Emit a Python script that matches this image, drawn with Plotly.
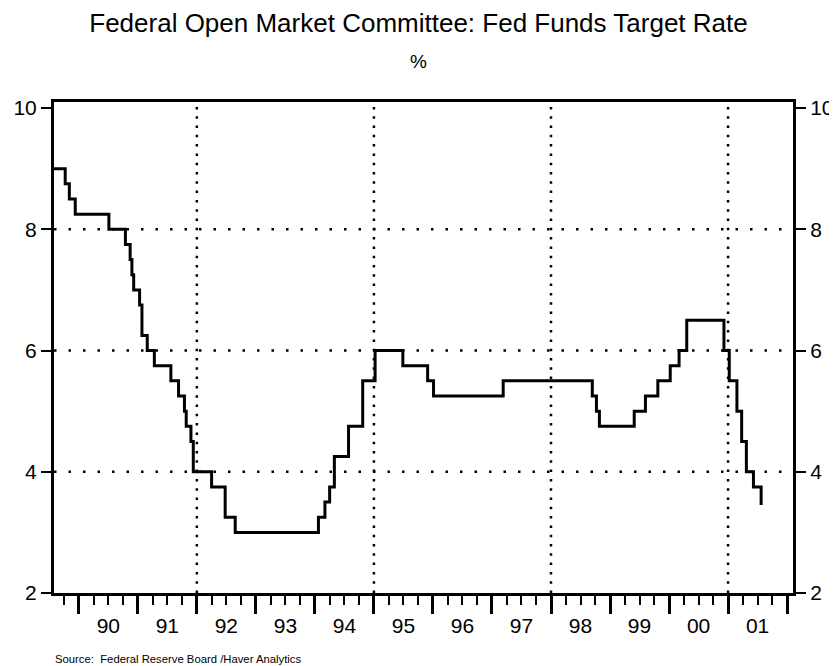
import plotly.graph_objects as go

# Fed funds target rate: dates of changes (decimal years) and new levels (%)
change_years = [1989.58, 1989.77, 1989.84, 1989.94, 1990.51, 1990.79, 1990.87, 1990.90,
                1990.93, 1991.03, 1991.07, 1991.16, 1991.28, 1991.56, 1991.69, 1991.79,
                1991.82, 1991.90, 1991.94, 1992.25, 1992.48, 1992.65, 1994.06, 1994.17,
                1994.25, 1994.33, 1994.57, 1994.81, 1995.02, 1995.49, 1995.91, 1996.01,
                1997.19, 1998.70, 1998.77, 1998.82, 1999.41, 1999.60, 1999.81, 2000.02,
                2000.17, 2000.30, 2000.93, 2001.02, 2001.15, 2001.23, 2001.31, 2001.43,
                2001.56]
rates = [9.0, 8.75, 8.5, 8.25, 8.0, 7.75, 7.5, 7.25,
         7.0, 6.75, 6.25, 6.0, 5.75, 5.5, 5.25, 5.0,
         4.75, 4.5, 4.0, 3.75, 3.25, 3.0, 3.25, 3.5,
         3.75, 4.25, 4.75, 5.5, 6.0, 5.75, 5.5, 5.25,
         5.5, 5.25, 5.0, 4.75, 5.0, 5.25, 5.5, 5.75,
         6.0, 6.5, 6.0, 5.5, 5.0, 4.5, 4.0, 3.75,
         3.45]

year_ticks = list(range(1990, 2003))
label_years = [y + 0.5 for y in range(1990, 2002)]
label_text = ["90", "91", "92", "93", "94", "95", "96", "97", "98", "99", "00", "01"]
y_ticks = [2, 4, 6, 8, 10]
h_grid = [4, 6, 8]
v_grid = [1992, 1995, 1998, 2001]

x_range = [1989.58, 2002.10]
y_range = [2, 10.1]

FONT = "Liberation Sans, Arial, sans-serif"

fig = go.Figure()
fig.add_trace(go.Scatter(x=change_years, y=rates, mode="lines",
                         line=dict(color="black", width=3, shape="hv"),
                         showlegend=False, hoverinfo="skip"))
# empty helper traces so the label axis (x2) and right axis (y2) are drawn
fig.add_trace(go.Scatter(x=[None], y=[None], xaxis="x2", yaxis="y", mode="lines",
                         showlegend=False, hoverinfo="skip"))
fig.add_trace(go.Scatter(x=[None], y=[None], xaxis="x", yaxis="y2", mode="lines",
                         showlegend=False, hoverinfo="skip"))

shapes = []
for g in h_grid:
    shapes.append(dict(type="line", xref="paper", x0=0, x1=1, yref="y", y0=g, y1=g,
                       line=dict(color="black", width=2.5, dash="2.5px,12px"), layer="below"))
for g in v_grid:
    shapes.append(dict(type="line", xref="x", x0=g, x1=g, yref="paper", y0=0, y1=1,
                       line=dict(color="black", width=2.5, dash="2.5px,6.8px"), layer="below"))

# page adds ~8px body offset; plot area target on page: x 54..793, y 101..593
fig.update_layout(
    width=837, height=666,
    margin=dict(l=46, r=52, t=94, b=81, autoexpand=False),
    paper_bgcolor="white", plot_bgcolor="white",
    font=dict(family=FONT, color="black"),
    title=dict(text="Federal Open Market Committee: Fed Funds Target Rate",
               x=(418.5 - 8) / 837, xanchor="center", y=1 - 15 / 666, yanchor="middle",
               yref="container",
               font=dict(size=26, family=FONT, color="black")),
    shapes=shapes,
    xaxis=dict(range=x_range, tickmode="array", tickvals=year_ticks, showticklabels=False,
               ticks="outside", ticklen=18, tickwidth=2.5, tickcolor="black",
               showline=True, linewidth=3, linecolor="black", mirror=True,
               showgrid=False, zeroline=False,
               minor=dict(ticks="outside", ticklen=9, tickwidth=1.5, tickcolor="black",
                          tick0=1990, dtick=0.25, showgrid=False)),
    xaxis2=dict(range=x_range, overlaying="x", anchor="y", side="bottom",
                tickmode="array", tickvals=label_years, ticktext=label_text,
                ticks="outside", ticklen=14, tickcolor="rgba(0,0,0,0)",
                showline=False, showgrid=False, zeroline=False,
                tickfont=dict(size=21, family=FONT, color="black")),
    yaxis=dict(range=y_range, tickmode="array", tickvals=y_ticks,
               ticks="outside", ticklen=10, tickwidth=2, tickcolor="black",
               showline=True, linewidth=3, linecolor="black",
               showgrid=False, zeroline=False,
               tickfont=dict(size=21, family=FONT, color="black")),
    yaxis2=dict(range=y_range, overlaying="y", side="right", anchor="x",
                tickmode="array", tickvals=y_ticks,
                ticks="outside", ticklen=10, tickwidth=2, tickcolor="black",
                showline=True, linewidth=3, linecolor="black",
                showgrid=False, zeroline=False,
                tickfont=dict(size=21, family=FONT, color="black")),
    annotations=[
        dict(text="%", xref="paper", yref="paper", x=(418 - 54) / 739, y=1 + (101 - 60) / 491,
             xanchor="center", yanchor="middle", showarrow=False,
             font=dict(size=19, family=FONT, color="black")),
        dict(text="Source:  Federal Reserve Board /Haver Analytics", xref="paper", yref="paper",
             x=-0.001, y=-(659 - 593) / 491, xanchor="left", yanchor="middle", showarrow=False,
             font=dict(size=11.3, family=FONT, color="black")),
    ],
)

fig.write_html("out.html")
